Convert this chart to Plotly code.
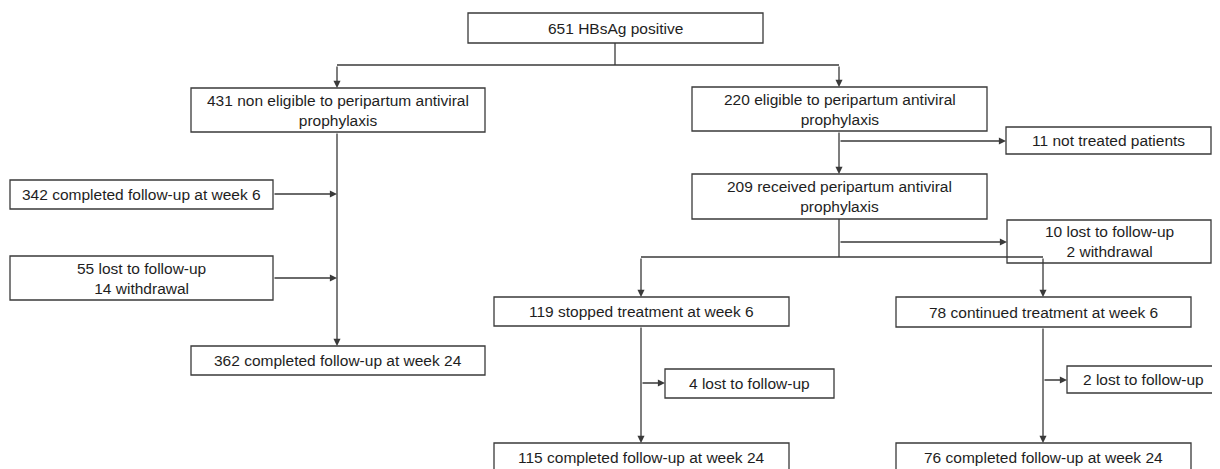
import plotly.graph_objects as go

# ---- data: node labels (flow counts) ----
node_ids = ["top", "ne", "el", "nt", "rec", "c6", "lost1", "c24", "lost2",
            "stop", "cont", "lost3", "lost4", "c24s", "c24c"]
node_labels = [
    "651 HBsAg positive",
    "431 non eligible to peripartum antiviral<br>prophylaxis",
    "220 eligible to peripartum antiviral<br>prophylaxis",
    "11 not treated patients",
    "209 received peripartum antiviral<br>prophylaxis",
    "342 completed follow-up at week 6",
    "55 lost to follow-up<br>14 withdrawal",
    "362 completed follow-up at week 24",
    "10 lost to follow-up<br>2 withdrawal",
    "119 stopped treatment at week 6",
    "78 continued treatment at week 6",
    "4 lost to follow-up",
    "2 lost to follow-up",
    "115 completed follow-up at week 24",
    "76 completed follow-up at week 24",
]

# ---- layout geometry (pixel canvas, y downward) ----
box_geom = {
    "top":   (468, 13, 763, 43),
    "ne":    (191, 88, 485, 132),
    "el":    (692, 87, 987, 131),
    "nt":    (1006, 127, 1211, 154),
    "rec":   (692, 174, 987, 219),
    "c6":    (10, 180, 273, 209),
    "lost1": (10, 256, 273, 300),
    "c24":   (191, 346, 485, 375),
    "lost2": (1007, 220, 1211, 263),
    "stop":  (494, 297, 789, 326),
    "cont":  (896, 297, 1191, 327),
    "lost3": (665, 369, 834, 398),
    "lost4": (1067, 366, 1219, 393),
    "c24s":  (494, 443, 789, 474),
    "c24c":  (896, 443, 1191, 474),
}
text_y_override = {"c24s": 457, "c24c": 457}

plain_lines = [
    ((615, 43), (615, 65)),
    ((337, 65), (839, 65)),
    ((839, 219), (839, 257)),
    ((641, 257), (1043, 257)),
]
arrows = [
    ((337, 65), (337, 88)),
    ((839, 65), (839, 87)),
    ((337, 132), (337, 346)),
    ((273, 194), (337, 194)),
    ((273, 278), (337, 278)),
    ((839, 131), (839, 174)),
    ((839, 141), (1006, 141)),
    ((839, 242), (1007, 242)),
    ((641, 257), (641, 297)),
    ((1043, 257), (1043, 297)),
    ((641, 326), (641, 443)),
    ((641, 383), (665, 383)),
    ((1043, 327), (1043, 443)),
    ((1043, 380), (1067, 380)),
]

LINE = "#3a3a3a"
W = 1220
H = 469
OFF = 8  # page body margin

fig = go.Figure()
shapes = []
annotations = []

for nid, label in zip(node_ids, node_labels):
    x0, y0, x1, y1 = box_geom[nid]
    shapes.append(dict(type="rect", xref="x", yref="y", x0=x0, y0=y0, x1=x1, y1=y1,
                       line=dict(color=LINE, width=1.3), fillcolor="white", layer="above"))
    ty = text_y_override.get(nid, (y0 + y1) / 2)
    annotations.append(dict(x=(x0 + x1) / 2, y=ty, xref="x", yref="y", text=label,
                            showarrow=False, xanchor="center", yanchor="middle",
                            font=dict(family="Liberation Sans, Arial, sans-serif", size=15.5, color="#1e1e1e")))

for (a, b) in plain_lines:
    shapes.append(dict(type="line", xref="x", yref="y", x0=a[0], y0=a[1], x1=b[0], y1=b[1],
                       line=dict(color=LINE, width=1.3), layer="above"))

for (a, b) in arrows:
    annotations.append(dict(x=b[0], y=b[1], ax=a[0], ay=a[1], xref="x", yref="y",
                            axref="x", ayref="y", showarrow=True, text="",
                            arrowhead=2, arrowsize=1.1, arrowwidth=1.3, arrowcolor=LINE,
                            standoff=0, startstandoff=0))

fig.add_trace(go.Scatter(x=[OFF, W], y=[OFF, H], mode="markers", marker=dict(opacity=0),
                         hoverinfo="skip", showlegend=False))

fig.update_layout(
    width=W - OFF, height=H - OFF,
    margin=dict(l=0, r=0, t=0, b=0),
    paper_bgcolor="white", plot_bgcolor="white",
    shapes=shapes, annotations=annotations,
    xaxis=dict(range=[OFF, W], visible=False, fixedrange=True),
    yaxis=dict(range=[H, OFF], visible=False, fixedrange=True),
    showlegend=False,
)

fig.write_html("out.html")
